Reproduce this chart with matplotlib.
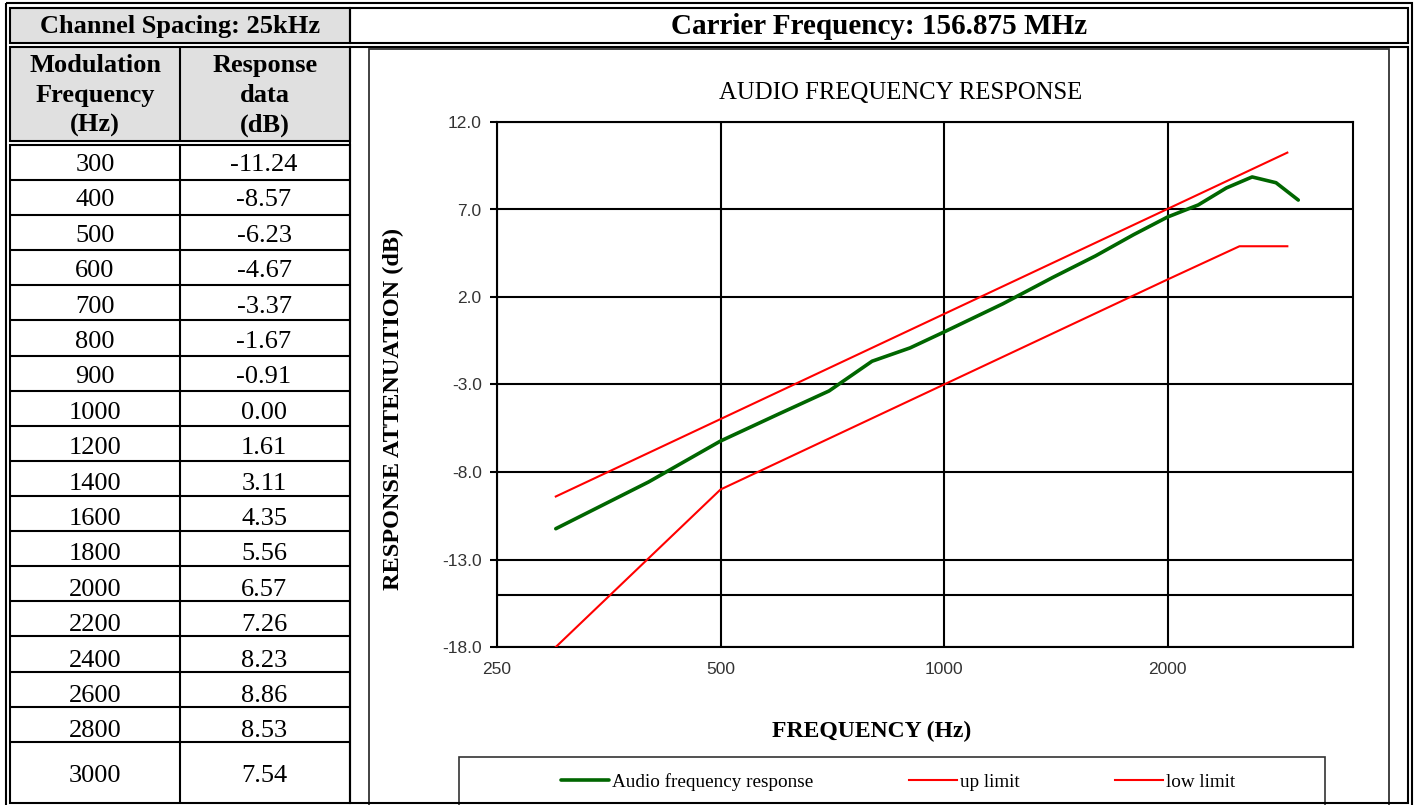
import matplotlib
matplotlib.use("Agg")
import matplotlib.pyplot as plt
from matplotlib.patches import Rectangle
from matplotlib.ticker import NullLocator

# ---------------- data ----------------
mod_freq = [300, 400, 500, 600, 700, 800, 900, 1000, 1200, 1400, 1600,
            1800, 2000, 2200, 2400, 2600, 2800, 3000]
resp_db = [-11.24, -8.57, -6.23, -4.67, -3.37, -1.67, -0.91, 0.00, 1.61,
           3.11, 4.35, 5.56, 6.57, 7.26, 8.23, 8.86, 8.53, 7.54]
up_freq = [300, 2900]
up_db = [-9.4, 10.25]
low_freq = [300, 500, 1000, 2000, 2500, 2900]
low_db = [-18.0, -9.0, -3.0, 3.0, 4.9, 4.9]
y_ticks = [-18.0, -13.0, -8.0, -3.0, 2.0, 7.0, 12.0]
x_ticks = [250, 500, 1000, 2000]
extra_grid = [-15.0]

header_left = "Channel Spacing: 25kHz"
header_right = "Carrier Frequency: 156.875 MHz"
col1_head = ["Modulation", "Frequency", "(Hz)"]
col2_head = ["Response", "data", "(dB)"]
chart_title = "AUDIO FREQUENCY RESPONSE"
x_label = "FREQUENCY (Hz)"
y_label = "RESPONSE ATTENUATION (dB)"
series_names = ["Audio frequency response", "up limit", "low limit"]

# ---------------- style ----------------
W, H = 1416, 805
SERIF = ["Liberation Serif", "DejaVu Serif"]
SANS = ["Liberation Sans", "DejaVu Sans"]
GREEN = "#006600"
RED = "#ff0000"
GRAY = "#e0e0e0"
LW = 1.5

fig = plt.figure(figsize=(W / 100, H / 100), dpi=100)
fig.patch.set_facecolor("white")
bg = fig.add_axes([0, 0, 1, 1], zorder=0)
bg.set_xlim(0, W)
bg.set_ylim(H, 0)
bg.axis("off")


def box(x0, y0, x1, y1, fc="none", ec="black", lw=LW, z=5):
    bg.add_patch(Rectangle((x0, y0), x1 - x0, y1 - y0, facecolor=fc,
                           edgecolor=ec, linewidth=lw, zorder=z))


def hline(y, x0, x1, lw=LW):
    bg.plot([x0, x1], [y, y], color="black", lw=lw,
            solid_capstyle="butt", zorder=5)


def vline(x, y0, y1, lw=LW):
    bg.plot([x, x], [y0, y1], color="black", lw=lw,
            solid_capstyle="butt", zorder=5)


# chart frame and legend box (under table borders)
box(369, 49, 1389, 815, fc="white", ec="#333333", lw=1.3, z=1)
box(459, 757, 1325, 815, fc="white", ec="#333333", lw=1.2, z=2)

# table borders
box(6, 3.5, 1412, 812)
box(10, 8, 350, 43, fc=GRAY)
box(350, 8, 1408, 43)
box(10, 47, 350, 141, fc=GRAY)
vline(180, 47, 141)
box(10, 145, 350, 803)
vline(180, 145, 803)
box(350, 47, 1408, 803)

row_top = 145
row_h = 35.1
n = len(mod_freq)
for i in range(1, n):
    hline(row_top + row_h * i, 10, 350)

# headers
bg.text(180, 33, header_left, ha="center", va="baseline", fontsize=19,
        weight="bold", family=SERIF, zorder=6)
bg.text(879, 34, header_right, ha="center", va="baseline", fontsize=21,
        weight="bold", family=SERIF, zorder=6)
for j, (a, b) in enumerate(zip(col1_head, col2_head)):
    yb = 72 + 30 * j
    bg.text(95, yb, a, ha="center", va="baseline", fontsize=19,
            weight="bold", family=SERIF, zorder=6)
    bg.text(265, yb, b, ha="center", va="baseline", fontsize=19,
            weight="bold", family=SERIF, zorder=6)

# table body
for i, (f, d) in enumerate(zip(mod_freq, resp_db)):
    if i < n - 1:
        yc = row_top + row_h * (i + 0.5)
        yb = yc + 8.5 + 0.3 * i
    else:
        yb = 782
    bg.text(95, yb, f"{f}", ha="center", va="baseline", fontsize=19,
            family=SERIF, zorder=6)
    bg.text(264, yb, f"{d:.2f}", ha="center", va="baseline", fontsize=19,
            family=SERIF, zorder=6)

# ---------------- chart ----------------
px0, px1, py0, py1 = 497, 1353, 122, 647
ax = fig.add_axes([px0 / W, 1 - py1 / H, (px1 - px0) / W, (py1 - py0) / H],
                  zorder=3)
ax.set_facecolor("white")
ax.set_xscale("log")
ax.set_xlim(250, 3555)
ax.set_ylim(-18, 12)

ax.set_xticks(x_ticks)
ax.set_xticklabels([str(t) for t in x_ticks])
ax.xaxis.set_minor_locator(NullLocator())
ax.set_yticks(y_ticks)
ax.set_yticklabels([f"{t:.1f}" for t in y_ticks])
ax.set_yticks(extra_grid, minor=True)

ax.grid(True, which="both", color="black", lw=LW)
ax.set_axisbelow(True)
for s in ax.spines.values():
    s.set_color("black")
    s.set_linewidth(LW)

ax.tick_params(axis="x", which="both", length=0, pad=11, labelsize=12.5,
               labelcolor="#333333")
ax.tick_params(axis="y", which="major", length=5, width=LW, pad=6,
               labelsize=12.5, labelcolor="#333333", direction="out")
ax.tick_params(axis="y", which="minor", length=0)
for lab in ax.get_xticklabels() + ax.get_yticklabels():
    lab.set_family(SANS)

l1, = ax.plot(mod_freq, resp_db, color=GREEN, lw=2.6,
              solid_capstyle="round", solid_joinstyle="round",
              label=series_names[0], zorder=4)
l2, = ax.plot(up_freq, up_db, color=RED, lw=1.5, label=series_names[1],
              zorder=4)
l3, = ax.plot(low_freq, low_db, color=RED, lw=1.5, label=series_names[2],
              zorder=4)

ax.text((901 - px0) / (px1 - px0), (py1 - 93) / (py1 - py0), chart_title,
        transform=ax.transAxes, ha="center", va="center", fontsize=17.8,
        family=SERIF)
ax.set_xlabel(x_label, fontsize=17, weight="bold", family=SERIF,
              va="center")
ax.xaxis.set_label_coords((872 - px0) / (px1 - px0), (py1 - 731) / (py1 - py0))
ax.set_ylabel(y_label, fontsize=17.5, weight="bold", family=SERIF,
              va="center")
ax.yaxis.set_label_coords((393 - px0) / (px1 - px0), (py1 - 409) / (py1 - py0))

leg = fig.legend(handles=[l1, l2, l3], labels=series_names, ncol=3,
                 loc="center left", bbox_to_anchor=(561 / W, 1 - 782 / H),
                 frameon=False, borderpad=0, borderaxespad=0,
                 handlelength=2.5, handletextpad=0.15, columnspacing=5.0,
                 prop={"family": SERIF, "size": 13.8})

fig.savefig("out.png", dpi=100)
